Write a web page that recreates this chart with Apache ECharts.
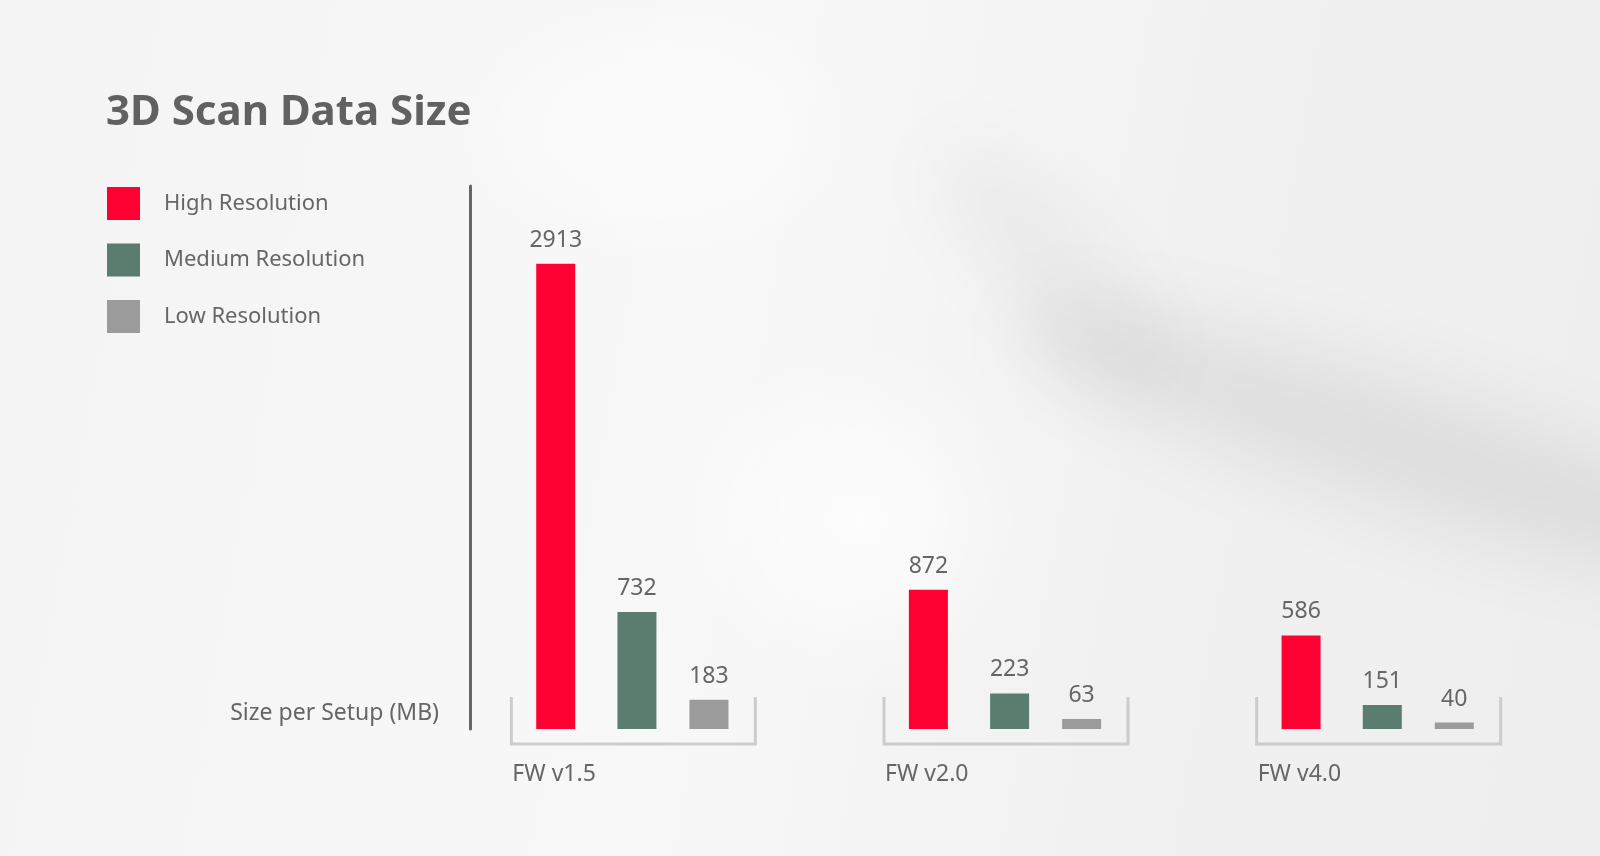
<!DOCTYPE html>
<html>
<head>
<meta charset="utf-8">
<script src="https://cdn.jsdelivr.net/npm/echarts@6/dist/echarts.min.js"></script>
<style>
html,body{margin:0;padding:0;width:1600px;height:856px;overflow:hidden;}
#wrap{position:relative;width:1600px;height:856px;overflow:hidden;
  background:
    radial-gradient(ellipse 260px 260px at 860px 520px, rgba(255,255,255,0.8), rgba(255,255,255,0) 70%),
    radial-gradient(ellipse 320px 200px at 650px 130px, rgba(255,255,255,0.6), rgba(255,255,255,0) 70%),
    linear-gradient(100deg, #f4f4f4 0%, #f8f8f8 45%, #f1f1f1 70%, #eeeeee 100%);
}
.blob{position:absolute;border-radius:50%;}
#b1{left:1000px;top:380px;width:800px;height:130px;background:rgba(0,0,0,0.07);filter:blur(35px);transform:rotate(18deg);}
#b2{left:890px;top:220px;width:320px;height:90px;background:rgba(0,0,0,0.04);filter:blur(35px);transform:rotate(48deg);}
#chart{position:absolute;left:0;top:0;width:1600px;height:856px;}
</style>
</head>
<body>
<div id="wrap">
<div class="blob" id="b1"></div>
<div class="blob" id="b2"></div>
<div id="chart"></div>
</div>
<script>
var categories = ['FW v1.5', 'FW v2.0', 'FW v4.0'];
var seriesNames = ['High Resolution', 'Medium Resolution', 'Low Resolution'];
var highRes = [2913, 872, 586];
var mediumRes = [732, 223, 151];
var lowRes = [183, 63, 40];
var colors = ['#ff0033', '#5b7d70', '#9b9b9b'];

var FONT = '"Noto Sans", sans-serif';
var chart = echarts.init(document.getElementById('chart'));

function barSeries(name, data, color) {
  return {
    name: name,
    type: 'bar',
    data: data,
    barWidth: 39,
    barGap: '84.6%',
    itemStyle: { color: color },
    label: {
      show: true,
      position: 'top',
      distance: 12,
      color: '#666666',
      fontSize: 23,
      fontFamily: FONT
    },
    emphasis: { disabled: true }
  };
}

var option = {
  backgroundColor: 'transparent',
  animation: false,
  title: [
    {
      text: '3D Scan Data Size',
      left: 106,
      top: 92,
      padding: 0,
      textStyle: { fontFamily: FONT, fontWeight: 'bold', fontSize: 42, color: '#616161' }
    },
    {
      text: 'Size per Setup (MB)',
      right: 1161,
      top: 702,
      padding: 0,
      textStyle: { fontFamily: FONT, fontWeight: 'normal', fontSize: 23, color: '#666666' }
    }
  ],
  legend: {
    data: seriesNames,
    orient: 'vertical',
    left: 107,
    top: 187,
    padding: 0,
    itemWidth: 33,
    itemHeight: 33,
    itemGap: 23.5,
    icon: 'rect',
    selectedMode: false,
    textStyle: { fontFamily: FONT, fontSize: 22, color: '#666666', padding: [0, 0, 0, 19] }
  },
  grid: { left: 446, right: 36, top: 186, bottom: 127, containLabel: false },
  xAxis: {
    type: 'category',
    data: categories,
    axisLine: { show: false },
    axisTick: { show: false },
    axisLabel: {
      margin: 34,
      formatter: function (v) { return '{a|' + v + '}'; },
      rich: { a: { width: 240, align: 'left', fontFamily: FONT, fontSize: 23, color: '#666666' } }
    }
  },
  yAxis: {
    type: 'value',
    min: 0,
    max: 3400,
    offset: -24,
    splitLine: { show: false },
    axisLabel: { show: false },
    axisTick: { show: false },
    axisLine: { show: true, lineStyle: { color: '#666666', width: 3 } }
  },
  series: [
    {
      type: 'custom',
      data: categories.map(function (c, i) { return [i, 0]; }),
      encode: { x: 0, y: 1 },
      silent: true,
      z: 1,
      renderItem: function (params, api) {
        var p = api.coord([api.value(0), 0]);
        var cx = p[0] + 1, by = p[1];
        return {
          type: 'polyline',
          shape: { points: [[cx - 122, by - 32], [cx - 122, by + 15], [cx + 122, by + 15], [cx + 122, by - 32]] },
          style: { stroke: '#cccccc', lineWidth: 3, fill: null }
        };
      }
    },
    barSeries(seriesNames[0], highRes, colors[0]),
    {
      name: 'spacer',
      type: 'bar',
      data: categories.map(function () { return null; }),
      barWidth: 5,
      barGap: '84.6%',
      silent: true,
      itemStyle: { color: 'rgba(0,0,0,0)' },
      label: { show: false }
    },
    barSeries(seriesNames[1], mediumRes, colors[1]),
    barSeries(seriesNames[2], lowRes, colors[2])
  ]
};
chart.setOption(option);
</script>
</body>
</html>
